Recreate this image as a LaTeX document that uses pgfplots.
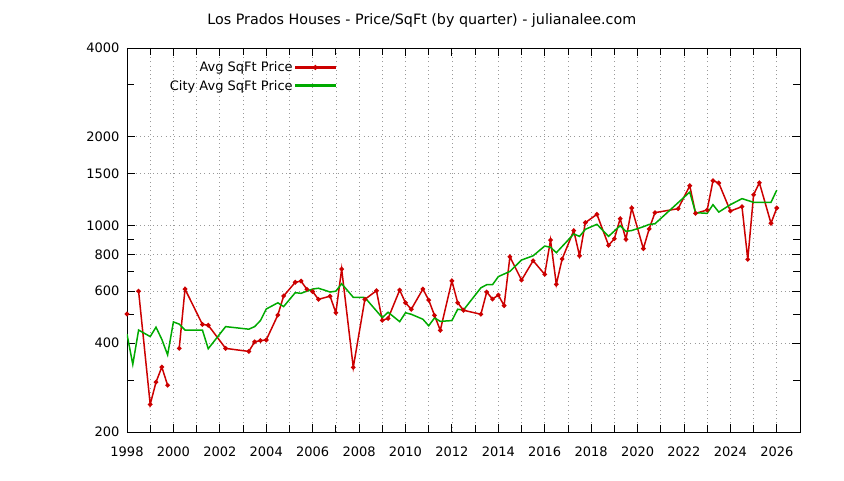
\documentclass[border=0pt]{standalone}
\usepackage{pgfplots}
\pgfplotsset{compat=1.18}
\usepackage{pgfplotstable}
\usepackage{fontspec}
\setmainfont{DejaVu Sans}

\definecolor{avgred}{RGB}{204,0,0}
\definecolor{citygreen}{RGB}{0,170,0}

% quarterly price per sqft, nan = no sales that quarter
\pgfplotstableread{
year    price
1998.0  502
1998.25 nan
1998.5  600
1999.0  248
1999.25 295
1999.5  332
1999.75 288
2000.0  nan
2000.25 384
2000.5  610
2001.25 463
2001.5  460
2002.25 384
2003.25 375
2003.5  404
2003.75 408
2004.0  410
2004.5  498
2004.75 578
2005.25 643
2005.5  649
2005.75 609
2006.0  598
2006.25 563
2006.75 577
2007.0  507
2007.25 713
2007.75 331
2008.25 563
2008.75 602
2009.0  478
2009.25 485
2009.75 605
2010.0  548
2010.25 521
2010.75 610
2011.0  560
2011.25 497
2011.5  442
2012.0  650
2012.25 548
2012.5  517
2013.25 501
2013.5  596
2013.75 564
2014.0  582
2014.25 536
2014.5  785
2015.0  654
2015.5  761
2016.0  684
2016.25 894
2016.5  633
2016.75 771
2017.25 962
2017.5  791
2017.75 1024
2018.25 1093
2018.75 858
2019.0  903
2019.25 1056
2019.5  899
2019.75 1148
2020.25 836
2020.5  975
2020.75 1107
2021.75 1142
2022.25 1366
2022.5  1101
2023.0  1130
2023.25 1420
2023.5  1395
2024.0  1121
2024.5  1160
2024.75 769
2025.0  1273
2025.25 1398
2025.75 1019
2026.0  1148
}\avgprice

\pgfplotstableread{
year    price
1998.0  429
1998.25 339
1998.5  443
1999.0  421
1999.25 453
1999.5  412
1999.75 365
2000.0  472
2000.25 464
2000.5  443
2001.25 443
2001.5  383
2002.25 455
2003.25 446
2003.5  455
2003.75 477
2004.0  522
2004.5  548
2004.75 532
2005.25 593
2005.5  590
2005.75 600
2006.0  610
2006.25 614
2006.75 596
2007.0  600
2007.25 636
2007.75 572
2008.25 571
2009.0  488
2009.25 509
2009.75 473
2010.0  507
2010.25 501
2010.75 482
2011.0  458
2011.25 487
2011.5  474
2012.0  477
2012.25 521
2012.5  518
2013.25 616
2013.5  631
2013.75 631
2014.0  672
2014.25 686
2014.5  700
2015.0  765
2015.5  791
2016.0  853
2016.25 845
2016.5  810
2017.25 937
2017.5  920
2017.75 972
2018.25 1011
2018.75 920
2019.25 1000
2019.5  957
2019.75 963
2020.25 992
2020.5  1010
2020.75 1015
2022.25 1300
2022.5  1107
2023.0  1101
2023.25 1178
2023.5  1112
2024.0  1178
2024.5  1235
2025.0  1200
2025.75 1200
2026.0  1320
}\cityprice

\begin{document}
\begin{tikzpicture}
  \begin{axis}[
    scale only axis,
    width=673pt, height=384pt,
    xmin=1998, xmax=2027,
    ymode=log, ymin=200, ymax=4000,
    font=\fontsize{13}{15}\selectfont,
    /pgf/number format/assume math mode=true,
    title={Los Prados Houses - Price/SqFt (by quarter) - julianalee.com},
    title style={at={(0.438,1)}, anchor=center, yshift=21pt,
      font=\fontsize{14.3}{16}\selectfont},
    xtick={1998,2000,...,2026},
    minor xtick={1999,2001,...,2027},
    x tick label style={/pgf/number format/1000 sep={}, yshift=-11pt},
    ytick={200,400,600,800,1000,1500,2000,4000},
    yticklabels={200,400,600,800,1000,1500,2000,4000},
    y tick label style={xshift=-4pt},
    minor ytick={300,500,700,900,3000},
    major tick length=8pt,
    minor tick length=7pt,
    tick style={black, line width=0.8pt},
    axis line style={line width=0.8pt},
    xmajorgrids, xminorgrids, ymajorgrids,
    grid style={gray!80, line width=0.7pt, dash pattern=on 0.9pt off 3.4pt},
    minor grid style={gray!80, line width=0.7pt, dash pattern=on 0.9pt off 3.4pt},
    unbounded coords=jump,
    legend cell align=right,
    legend plot pos=right,
    legend style={at={(0.3155,0.975)}, anchor=north east, draw=none, fill=none,
      row sep=3pt, font=\fontsize{13}{15}\selectfont},
  ]
    \addplot[color=avgred, line width=1.5pt, mark=*, mark size=1.5pt,
      legend image code/.code={
        \fill[avgred] (3pt,-0.8pt) rectangle (43pt,0.8pt);
        \fill[avgred] (23pt,0pt) circle (1.7pt);}]
      table[x=year, y=price] {\avgprice};
    \addlegendentry{Avg SqFt Price}

    \addplot[color=citygreen, line width=1.5pt, no marks,
      legend image code/.code={
        \fill[citygreen] (3pt,-0.8pt) rectangle (43pt,0.8pt);}]
      table[x=year, y=price] {\cityprice};
    \addlegendentry{City Avg SqFt Price}
  \end{axis}
  \pgfresetboundingbox
  \path[use as bounding box] (-127pt,-48pt) rectangle (717pt,432pt);
\end{tikzpicture}
\end{document}
